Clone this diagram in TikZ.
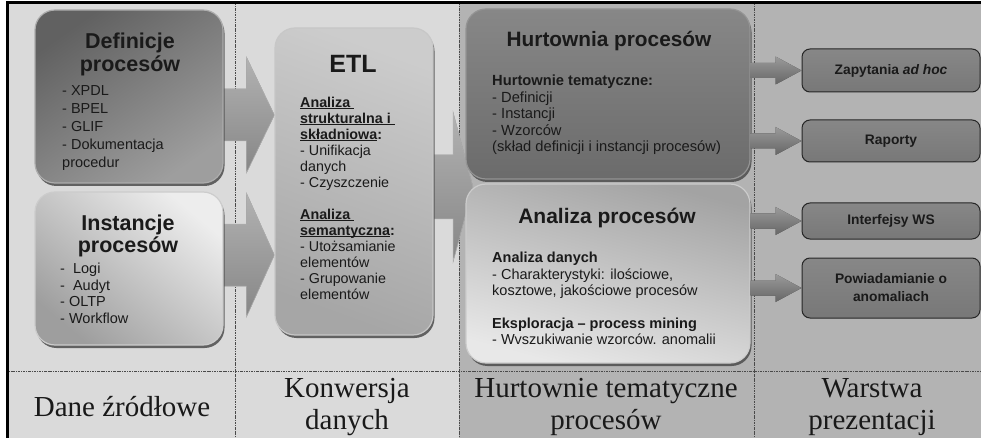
\documentclass[tikz,border=0pt]{standalone}
\usepackage{fontspec}
\setmainfont{Liberation Sans}
\newfontfamily\captionserif{Liberation Serif}
\usetikzlibrary{shadows,calc}

\definecolor{paleback}{HTML}{DADADA}
\definecolor{darkback}{HTML}{B3B3B3}
\definecolor{ink}{HTML}{1A1A1A}
\definecolor{divider}{HTML}{4A4A4A}
\definecolor{arrowtop}{HTML}{B2B2B2}
\definecolor{arrowbot}{HTML}{868686}
\definecolor{arrowshade}{HTML}{4C4C4C}
\definecolor{smalltop}{HTML}{9A9A9A}
\definecolor{smallbot}{HTML}{666666}

% underline that ignores descenders
\newcommand\ulin[1]{\underline{\smash{#1}}}

% block arrow: #1 style, #2 start point, #3 tip point, #4 shaft half-height,
% #5 head half-height, #6 head length
\newcommand\blockarrow[6]{%
  \path[#1] let \p1=(#2), \p2=(#3) in
    (\x1,\y1+#4) -- (\x2-#6,\y1+#4) -- (\x2-#6,\y1+#5) -- (\x2,\y1)
    -- (\x2-#6,\y1-#5) -- (\x2-#6,\y1-#4) -- (\x1,\y1-#4) -- cycle;}

\pgfdeclarelayer{ground}
\pgfdeclarelayer{back}
\pgfsetlayers{ground,back,main}

\tikzset{
  mainbox/.style={rounded corners=20pt, inner sep=0pt, line width=1.2pt,
    drop shadow={shadow xshift=1.5pt, shadow yshift=-3pt, fill=black!70, opacity=0.85}},
  pbox/.style={rounded corners=8pt, inner sep=0pt, draw=black!85, line width=1pt,
    top color=black!47, bottom color=black!53, minimum width=178pt,
    align=center, text=ink, font=\fontsize{13.8pt}{18pt}\selectfont\bfseries},
  ttl/.style={inner sep=0pt, anchor=north, align=center, text=ink},
  lst/.style={inner sep=0pt, anchor=north west, align=left, text=ink},
  colcaption/.style={inner sep=0pt, align=center, text=black!90,
    font=\fontsize{29pt}{32pt}\selectfont\captionserif},
  divline/.style={draw=divider, line width=0.7pt,
    dash pattern=on 2.5pt off 1pt on 0.8pt off 1pt},
  bigshadow/.style={fill=arrowshade, xshift=1.5pt, yshift=-2.5pt},
  bigfill/.style={top color=arrowtop, bottom color=arrowbot, draw=black!30, line width=0.5pt},
  smallshadow/.style={fill=black!75, xshift=1pt, yshift=-2pt},
  smallfill/.style={top color=smalltop, bottom color=smallbot},
}

\begin{document}
\begin{tikzpicture}[x=1pt,y=-1pt]
\useasboundingbox (0,0) rectangle (981,438);
\clip (0,0) rectangle (981,438);

\begin{pgfonlayer}{ground}
  % backgrounds of the four columns
  \fill[paleback] (7,3) rectangle (459,450);
  \fill[darkback] (459,3) rectangle (990,450);
  % column and row dividers
  \draw[divline] (235,3) -- (235,438);
  \draw[divline] (459,3) -- (459,438);
  \draw[divline] (754,3) -- (754,438);
  \draw[divline] (7,371) -- (981,371);
  % outer frame
  \draw[line width=3pt, black] (7,3) rectangle (1000,460);
\end{pgfonlayer}

% anchor points of the block arrows
\coordinate (a1s) at (222,115);
\coordinate (a2s) at (222,255);
\coordinate (a3s) at (425,187);
\coordinate (a3t) at (473,187);

% source data
\node[mainbox, draw=black!32, top color=black!62, bottom color=black!38,
      shading angle=35, minimum width=188pt, minimum height=173pt]
      (def) at (129,96.5) {};
\node[mainbox, draw=black!20, top color=black!7, bottom color=black!38,
      shading angle=-40, minimum width=188pt, minimum height=153pt]
      (inst) at (129,268.5) {};
% data conversion
\node[mainbox, draw=black!22, top color=black!20, bottom color=black!35,
      shading angle=-20, minimum width=158pt, minimum height=307pt]
      (etl) at (354,181.5) {};
% warehouse
\node[mainbox, draw=black!42, top color=black!47, bottom color=black!58,
      minimum width=284pt, minimum height=170pt]
      (hurt) at (608,94) {};
\node[mainbox, draw=black!20, left color=black!36, right color=black!9,
      shading angle=-15, minimum width=284pt, minimum height=179pt]
      (anal) at (608,273.5) {};

% presentation layer
\node[pbox, minimum height=43pt] (zap) at (891,70.5) {Zapytania \textit{ad hoc}};
\node[pbox, minimum height=42pt] (rap) at (891,141) {Raporty};
\node[pbox, minimum height=36pt] (ws)  at (891,221) {Interfejsy WS};
\node[pbox, minimum height=60pt] (pow) at (891,288) {Powiadamianie o\\anomaliach};

% block arrows between the columns, kept behind the boxes
\begin{pgfonlayer}{back}
  \blockarrow{bigshadow}{a1s}{etl.west}{26pt}{58pt}{28pt}
  \blockarrow{bigfill}{a1s}{etl.west}{26pt}{58pt}{28pt}
  \blockarrow{bigshadow}{a2s}{etl.west}{31pt}{62pt}{28pt}
  \blockarrow{bigfill}{a2s}{etl.west}{31pt}{62pt}{28pt}
  \blockarrow{bigshadow}{a3s}{a3t}{32pt}{75pt}{20pt}
  \blockarrow{bigfill}{a3s}{a3t}{32pt}{75pt}{20pt}
\end{pgfonlayer}

% small arrows towards the presentation layer
\foreach \tgt/\src in {zap/hurt, rap/hurt, ws/anal, pow/anal}{
  \coordinate (s-\tgt) at (\src.east |- \tgt.west);
  \blockarrow{smallshadow}{s-\tgt}{\tgt.west}{7.5pt}{14pt}{26pt}
  \blockarrow{smallfill}{s-\tgt}{\tgt.west}{7.5pt}{14pt}{26pt}
}

% box texts
\node[ttl, font=\fontsize{21.5pt}{23pt}\selectfont\bfseries] (defT) at (130,33)
  {Definicje\\procesów};
\node[lst, font=\fontsize{14.5pt}{18pt}\selectfont] (defL) at (62,85)
  {- XPDL\\- BPEL\\- GLIF\\- Dokumentacja\\procedur};

\node[ttl, font=\fontsize{21.5pt}{20pt}\selectfont\bfseries] (instT) at (128,215)
  {Instancje\\procesów};
\node[lst, font=\fontsize{14.5pt}{16.5pt}\selectfont] (instL) at (60,263)
  {-\ \ Logi\\-\ \ Audyt\\- OLTP\\- Workflow};

\node[ttl, font=\fontsize{25pt}{26pt}\selectfont\bfseries] (etlT) at (353,55) {ETL};
\node[lst, font=\fontsize{14.3pt}{16pt}\selectfont] (etlL) at (300,107)
  {{\bfseries\ulin{Analiza }}\\
   {\bfseries\ulin{strukturalna i }}\\
   {\bfseries\ulin{składniowa}:}\\
   - Unifikacja\\
   danych\\
   - Czyszczenie\\[16pt]
   {\bfseries\ulin{Analiza }}\\
   {\bfseries\ulin{semantyczna}:}\\
   - Utożsamianie\\
   elementów\\
   - Grupowanie\\
   elementów};

\node[ttl, font=\fontsize{20.8pt}{22pt}\selectfont\bfseries] (hurtT) at (609,31)
  {Hurtownia procesów};
\node[lst, font=\fontsize{14.7pt}{16.5pt}\selectfont] (hurtL) at (492,75)
  {{\bfseries Hurtownie tematyczne:}\\
   - Definicji\\
   - Instancji\\
   - Wzorców\\
   (skład definicji i instancji procesów)};

\node[ttl, font=\fontsize{21pt}{22pt}\selectfont\bfseries] (analT) at (607,208)
  {Analiza procesów};
\node[lst, font=\fontsize{14.5pt}{16.5pt}\selectfont] (analL) at (492,252)
  {{\bfseries Analiza danych}\\
   - Charakterystyki: ilościowe,\\
   kosztowe, jakościowe procesów\\[16pt]
   {\bfseries Eksploracja – process mining}\\
   - Wvszukiwanie wzorców. anomalii};

% column captions
\node[colcaption, anchor=base] (c1) at (122,416) {Dane źródłowe};
\node[colcaption, anchor=north] (c2) at (347,378) {Konwersja\\danych};
\node[colcaption, anchor=north] (c3) at (606,378) {Hurtownie tematyczne\\procesów};
\node[colcaption, anchor=north] (c4) at (872,378) {Warstwa\\prezentacji};
\end{tikzpicture}
\end{document}
